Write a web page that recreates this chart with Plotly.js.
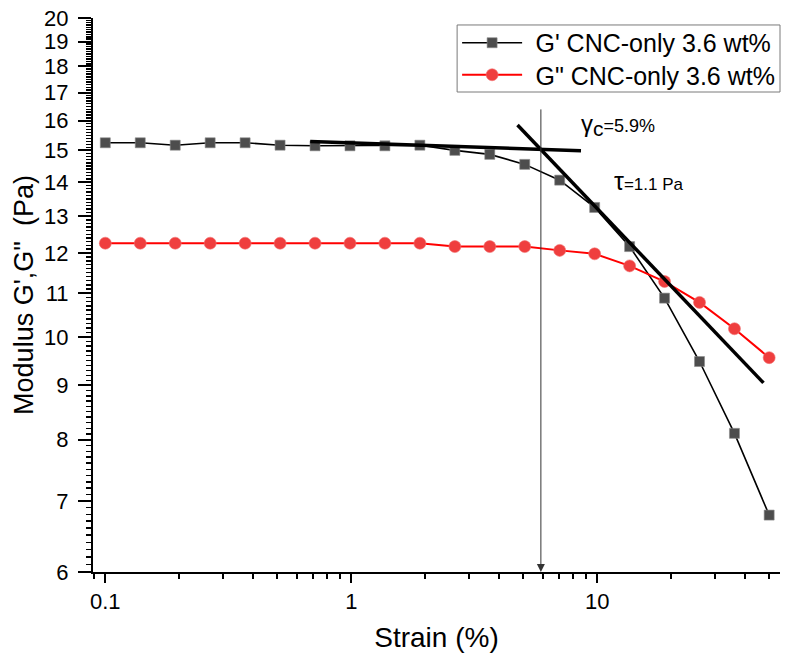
<!DOCTYPE html>
<html>
<head>
<meta charset="utf-8">
<script src="https://cdn.plot.ly/plotly-3.0.1.min.js"></script>
<style>html,body{margin:0;padding:0;background:#fff;}#chart{width:786px;height:659px;}</style>
</head>
<body>
<div id="chart"></div>
<script>
// Data
var strain = [0.1, 0.1387, 0.1924, 0.2669, 0.3702, 0.5135, 0.7123, 0.988, 1.370, 1.901,
              2.637, 3.657, 5.073, 7.037, 9.761, 13.54, 18.78, 26.05, 36.13, 50.0];
var gPrime = [15.25, 15.25, 15.17, 15.25, 15.25, 15.17, 15.15, 15.15, 15.15, 15.17,
              15.0, 14.87, 14.55, 14.06, 13.25, 12.17, 10.88, 9.48, 8.11, 6.79];
var gDouble = [12.26, 12.26, 12.26, 12.26, 12.26, 12.26, 12.26, 12.26, 12.26, 12.26,
               12.17, 12.17, 12.17, 12.07, 11.98, 11.67, 11.28, 10.78, 10.18, 9.56];
// Tangent lines (overlay)
var plateauX = [0.681, 8.59];
var plateauY = [15.29, 14.99];
var slopeX = [4.74, 47.4];
var slopeY = [15.85, 9.05];
var gammaC = 5.9;
var gammaTop = 16.45;
var seriesNames = ["G' CNC-only 3.6 wt%", 'G" CNC-only 3.6 wt%'];
var xTickVals = [0.1, 1, 10];
var xTickText = ['0.1', '1', '10'];
var yTickVals = [6, 7, 8, 9, 10, 11, 12, 13, 14, 15, 16, 17, 18, 19, 20];

var xMinor = [];
[0.1, 1, 10].forEach(function (d) { for (var k = 2; k <= 9; k++) { var v = d * k; if (v <= 55) xMinor.push(v); } });
xMinor.push(0.09);
var yMinor = [];
for (var i = 61; i < 200; i++) { if (i % 10 !== 0) yMinor.push(i / 10); }

var font = 'Liberation Sans, Arial, sans-serif';
var pad = '\u2004';

var traces = [
  {x: strain, y: gPrime, name: pad + seriesNames[0], type: 'scatter', mode: 'lines+markers',
   legend: 'legend',
   line: {color: '#000000', width: 1.6},
   marker: {symbol: 'square', size: 10, color: '#4d4d4d', line: {color: '#8a8a8a', width: 0.6}}},
  {x: strain, y: gDouble, name: pad + seriesNames[1], type: 'scatter', mode: 'lines+markers',
   legend: 'legend2',
   line: {color: '#ff0000', width: 2},
   marker: {symbol: 'circle', size: 12, color: '#ef3e3e', line: {color: '#f27070', width: 0.6}}},
  {x: plateauX, y: plateauY, type: 'scatter', mode: 'lines', showlegend: false, hoverinfo: 'skip',
   line: {color: '#000000', width: 3.5}},
  {x: slopeX, y: slopeY, type: 'scatter', mode: 'lines', showlegend: false, hoverinfo: 'skip',
   line: {color: '#000000', width: 3.5}}
];

var legendCommon = {xanchor: 'left', yanchor: 'middle', borderwidth: 0, bgcolor: 'rgba(0,0,0,0)',
                    font: {family: font, size: 25, color: '#000'}, itemwidth: 60};

var layout = {
  width: 786, height: 659,
  margin: {l: 93, r: 6, t: 18, b: 87},
  paper_bgcolor: '#ffffff', plot_bgcolor: '#ffffff',
  font: {family: font, color: '#000000', size: 22},
  showlegend: true,
  legend: Object.assign({x: 0.53, y: 0.9549}, legendCommon),
  legend2: Object.assign({x: 0.53, y: 0.8971}, legendCommon),
  shapes: [
    {type: 'rect', xref: 'paper', yref: 'paper', x0: 0.53, x1: 1.0, y0: 0.8664, y1: 0.9874,
     line: {color: '#7a7a7a', width: 1}, fillcolor: 'rgba(0,0,0,0)', layer: 'above'}
  ],
  xaxis: {
    type: 'log', range: [-1.05, 1.743],
    showgrid: false, zeroline: false, showline: true, linecolor: '#000', linewidth: 2,
    ticks: 'outside', ticklen: 9, tickwidth: 2, tickcolor: '#000',
    tickmode: 'array', tickvals: xTickVals, ticktext: xTickText,
    tickfont: {family: font, size: 22},
    minor: {tickmode: 'array', tickvals: xMinor, ticks: 'outside', ticklen: 5, tickwidth: 2, tickcolor: '#000', showgrid: false},
    title: {text: 'Strain (%)', font: {family: font, size: 28}, standoff: 14},
    mirror: false
  },
  yaxis: {
    type: 'log', range: [Math.log10(6), Math.log10(20)],
    showgrid: false, zeroline: false, showline: true, linecolor: '#000', linewidth: 2,
    ticks: 'outside', ticklen: 13, tickwidth: 2, tickcolor: '#000',
    ticklabelstandoff: 5,
    tickmode: 'array', tickvals: yTickVals, ticktext: yTickVals.map(String),
    tickfont: {family: font, size: 22},
    minor: {tickmode: 'array', tickvals: yMinor, ticks: 'outside', ticklen: 5, tickwidth: 1.5, tickcolor: '#000', showgrid: false},
    title: {text: 'Modulus G\',G"\u00a0 (Pa)', font: {family: font, size: 27}, standoff: 3}
  },
  annotations: [
    {x: Math.log10(gammaC), y: Math.log10(6), xref: 'x', yref: 'y',
     ax: Math.log10(gammaC), ay: Math.log10(gammaTop), axref: 'x', ayref: 'y',
     text: '', showarrow: true, arrowhead: 2, arrowsize: 1.6, arrowwidth: 1, arrowcolor: '#333333'},
    {x: 0.708, y: 0.807, xref: 'paper', yref: 'paper', xanchor: 'left', yanchor: 'middle',
     showarrow: false, font: {family: font, size: 18, color: '#000'},
     text: '<span style="font-size:24px">γ</span><sub><span style="font-size:21px">c</span></sub>=5.9%'},
    {x: 0.755, y: 0.706, xref: 'paper', yref: 'paper', xanchor: 'left', yanchor: 'middle',
     showarrow: false, font: {family: font, size: 17, color: '#000'},
     text: '<span style="font-size:25px">τ</span>=1.1 Pa'}
  ]
};

Plotly.newPlot('chart', traces, layout, {displayModeBar: false, staticPlot: true});
</script>
</body>
</html>
